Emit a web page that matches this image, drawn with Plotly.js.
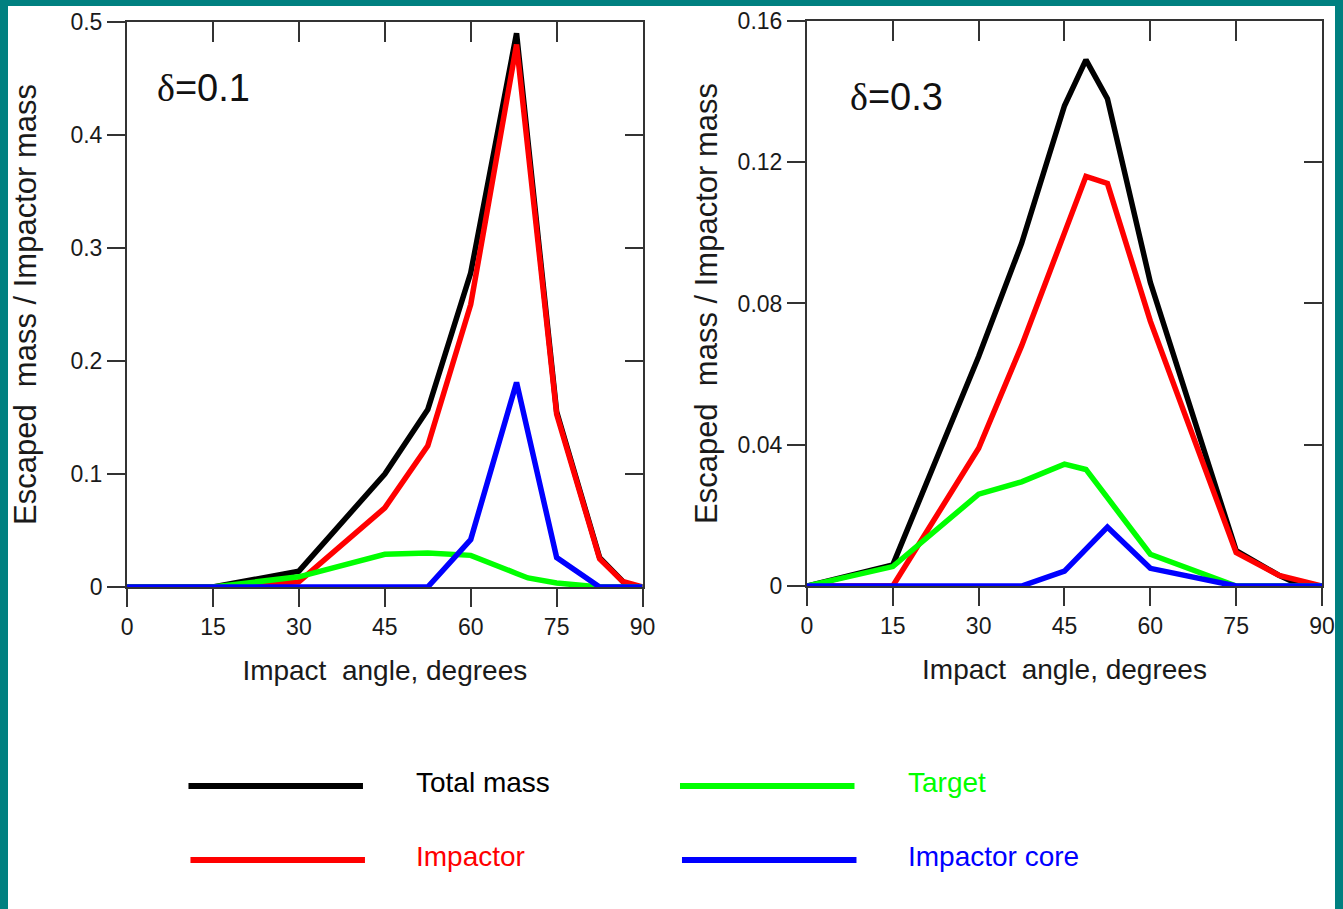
<!DOCTYPE html>
<html>
<head>
<meta charset="utf-8">
<script src="https://cdn.plot.ly/plotly-3.0.1.min.js"></script>
<style>
  html, body { margin: 0; padding: 0; background: #008080; width: 1343px; height: 909px; overflow: hidden; }
  #chart { position: absolute; left: 8px; top: 6px; width: 1327px; height: 903px; background: #ffffff; }
</style>
</head>
<body>
<div id="chart"></div>
<script>
// ---------- Data ----------
// Panel 1: delta = 0.1
const d1_totalAngle = [0, 15, 30, 45, 52.5, 60, 68, 75, 82.5, 86.5, 87.5, 90];
const d1_total      = [0, 0, 0.014, 0.1, 0.157, 0.278, 0.49, 0.155, 0.026, 0.005, 0, 0];
const d1_impAngle   = [0, 15, 30, 45, 52.5, 60, 68, 75, 82.5, 86.5, 90];
const d1_impactor   = [0, 0, 0.0045, 0.07, 0.125, 0.25, 0.48, 0.153, 0.025, 0.005, 0];
const d1_tgtAngle   = [0, 15, 30, 45, 52.5, 60, 68, 70, 75, 82.5, 90];
const d1_target     = [0, 0, 0.009, 0.029, 0.03, 0.028, 0.012, 0.008, 0.0035, 0, 0];
const d1_coreAngle  = [0, 15, 30, 45, 52.5, 60, 68, 75, 82.5, 90];
const d1_core       = [0, 0, 0, 0, 0, 0.042, 0.181, 0.026, 0, 0];

// Panel 2: delta = 0.3
const d2_angle      = [0, 15, 30, 37.5, 45, 48.75, 52.5, 60, 75, 82.5, 90];
const d2_totalAngle = [0, 15, 30, 37.5, 45, 48.75, 52.5, 60, 75, 82.5, 86.5, 90];
const d2_total      = [0, 0.006, 0.065, 0.097, 0.136, 0.149, 0.138, 0.086, 0.01, 0.003, 0, 0];
const d2_impactor   = [0, 0, 0.039, 0.068, 0.1, 0.116, 0.114, 0.075, 0.0095, 0.003, 0];
const d2_target     = [0, 0.0055, 0.026, 0.0295, 0.0345, 0.033, 0.025, 0.009, 0, 0, 0];
const d2_coreAngle  = [0, 15, 30, 37.5, 45, 52.5, 60, 75, 90];
const d2_core       = [0, 0, 0, 0, 0.0042, 0.0167, 0.005, 0, 0];

const seriesNames  = ["Total mass", "Impactor", "Target", "Impactor core"];
const seriesColors = ["#000000", "#ff0000", "#00ff00", "#0000ff"];
const panelLabels  = ["δ=0.1", "δ=0.3"];
const xTicks = [0, 15, 30, 45, 60, 75, 90];
const y1Ticks = [0, 0.1, 0.2, 0.3, 0.4, 0.5];
const y1TickText = ["0", "0.1", "0.2", "0.3", "0.4", "0.5"];
const y2Ticks = [0, 0.04, 0.08, 0.12, 0.16];
const y2TickText = ["0", "0.04", "0.08", "0.12", "0.16"];
const xTitle = "Impact  angle, degrees";
const yTitle = "Escaped  mass / Impactor mass";

// ---------- Traces ----------
function line(x, y, i, xa, ya) {
  return { x: x, y: y, type: "scatter", mode: "lines", name: seriesNames[i],
    xaxis: xa, yaxis: ya, showlegend: false, hoverinfo: "x+y",
    line: { color: seriesColors[i], width: 5.5, shape: "linear" } };
}
const traces = [
  line(d1_totalAngle, d1_total, 0, "x", "y"),
  line(d1_impAngle, d1_impactor, 1, "x", "y"),
  line(d1_tgtAngle, d1_target, 2, "x", "y"),
  line(d1_coreAngle, d1_core, 3, "x", "y"),
  line(d2_totalAngle, d2_total, 0, "x2", "y2"),
  line(d2_angle, d2_impactor, 1, "x2", "y2"),
  line(d2_angle, d2_target, 2, "x2", "y2"),
  line(d2_coreAngle, d2_core, 3, "x2", "y2"),
  // empty traces to hold the mirrored (inside-tick) frame axes
  { x: [], y: [], type: "scatter", mode: "lines", xaxis: "x3", yaxis: "y3", showlegend: false, hoverinfo: "skip" },
  { x: [], y: [], type: "scatter", mode: "lines", xaxis: "x4", yaxis: "y4", showlegend: false, hoverinfo: "skip" }
];

// ---------- Layout ----------
const FONT = "Liberation Sans, Arial, sans-serif";
const AX = "#333333";
const tickFont = { family: FONT, size: 23, color: "#1a1a1a" };

const dom1x = [0.0897, 0.4782], dom1y = [0.3566, 0.9823];
const dom2x = [0.6021, 0.9902], dom2y = [0.3577, 0.9834];

function xMain(dom, anchor) {
  return { domain: dom, anchor: anchor, range: [0, 90], tickmode: "array", tickvals: xTicks,
    ticktext: xTicks.map(String), ticks: "outside", ticklen: 18, tickwidth: 2, tickcolor: AX,
    showline: true, linecolor: AX, linewidth: 2, showgrid: false, zeroline: false,
    tickfont: tickFont, fixedrange: true,
    title: { text: xTitle, font: { family: FONT, size: 28, color: "#1a1a1a" }, standoff: 22 } };
}
function yMain(dom, anchor, range, tv, tt, standoff) {
  return { domain: dom, anchor: anchor, range: range, tickmode: "array", tickvals: tv, ticktext: tt,
    ticks: "outside", ticklen: 18, tickwidth: 2, tickcolor: AX,
    showline: true, linecolor: AX, linewidth: 2, showgrid: false, zeroline: false,
    tickfont: tickFont, fixedrange: true,
    title: { text: yTitle, font: { family: FONT, size: 31, color: "#1a1a1a" }, standoff: standoff } };
}
function xMirror(over, anchor) {
  return { overlaying: over, anchor: anchor, side: "top", range: [0, 90], tickmode: "array",
    tickvals: xTicks, ticks: "inside", ticklen: 20, tickwidth: 2, tickcolor: AX,
    showticklabels: false, showline: true, linecolor: AX, linewidth: 2,
    showgrid: false, zeroline: false, fixedrange: true };
}
function yMirror(over, anchor, range, tv) {
  return { overlaying: over, anchor: anchor, side: "right", range: range, tickmode: "array",
    tickvals: tv, ticks: "inside", ticklen: 18, tickwidth: 2, tickcolor: AX,
    showticklabels: false, showline: true, linecolor: AX, linewidth: 2,
    showgrid: false, zeroline: false, fixedrange: true };
}

// Legend (custom 2 x 2 grid drawn with shapes + coloured text)
const legendOrder = [0, 2, 1, 3]; // row-major: Total mass, Target / Impactor, Impactor core
const legColX = [0.1360, 0.5064];
const legRowY = [0.1362, 0.0543];
const legLineLen = 0.1315;
const legTextGap = 0.0385;
const shapes = [];
const annotations = [];
legendOrder.forEach(function (si, k) {
  const col = k % 2, row = Math.floor(k / 2);
  const x0 = legColX[col] + (row === 1 ? 0.0015 : 0);
  shapes.push({ type: "line", xref: "paper", yref: "paper", x0: x0, x1: x0 + legLineLen,
    y0: legRowY[row], y1: legRowY[row], line: { color: seriesColors[si], width: 6 } });
  annotations.push({ xref: "paper", yref: "paper", x: legColX[col] + legLineLen + legTextGap,
    y: legRowY[row] + 0.004, xanchor: "left", yanchor: "middle", showarrow: false,
    text: seriesNames[si], font: { family: FONT, size: 28, color: seriesColors[si] } });
});
// Panel labels
const panelPos = [[0.1470, 0.9092], [0.6692, 0.8992]];
panelLabels.forEach(function (lab, i) {
  const parts = lab.split("=");
  annotations.push({ xref: "paper", yref: "paper", x: panelPos[i][0], y: panelPos[i][1],
    xanchor: "center", yanchor: "middle", showarrow: false,
    text: '<span style="font-family:Liberation Serif, Times New Roman, serif">' + parts[0] + '</span>=' + parts[1],
    font: { family: FONT, size: 38, color: "#111111" } });
});

const layout = {
  width: 1327, height: 903,
  margin: { l: 0, r: 0, t: 0, b: 0, pad: 0 },
  paper_bgcolor: "#ffffff", plot_bgcolor: "rgba(0,0,0,0)",
  showlegend: false,
  font: { family: FONT, color: "#1a1a1a" },
  xaxis: xMain(dom1x, "y"),
  yaxis: yMain(dom1y, "x", [0, 0.5], y1Ticks, y1TickText, 28),
  xaxis2: xMain(dom2x, "y2"),
  yaxis2: yMain(dom2y, "x2", [0, 0.16], y2Ticks, y2TickText, 11),
  xaxis3: xMirror("x", "y"),
  yaxis3: yMirror("y", "x", [0, 0.5], y1Ticks),
  xaxis4: xMirror("x2", "y2"),
  yaxis4: yMirror("y2", "x2", [0, 0.16], y2Ticks),
  shapes: shapes,
  annotations: annotations
};

Plotly.newPlot("chart", traces, layout, { staticPlot: true, displayModeBar: false });
</script>
</body>
</html>
